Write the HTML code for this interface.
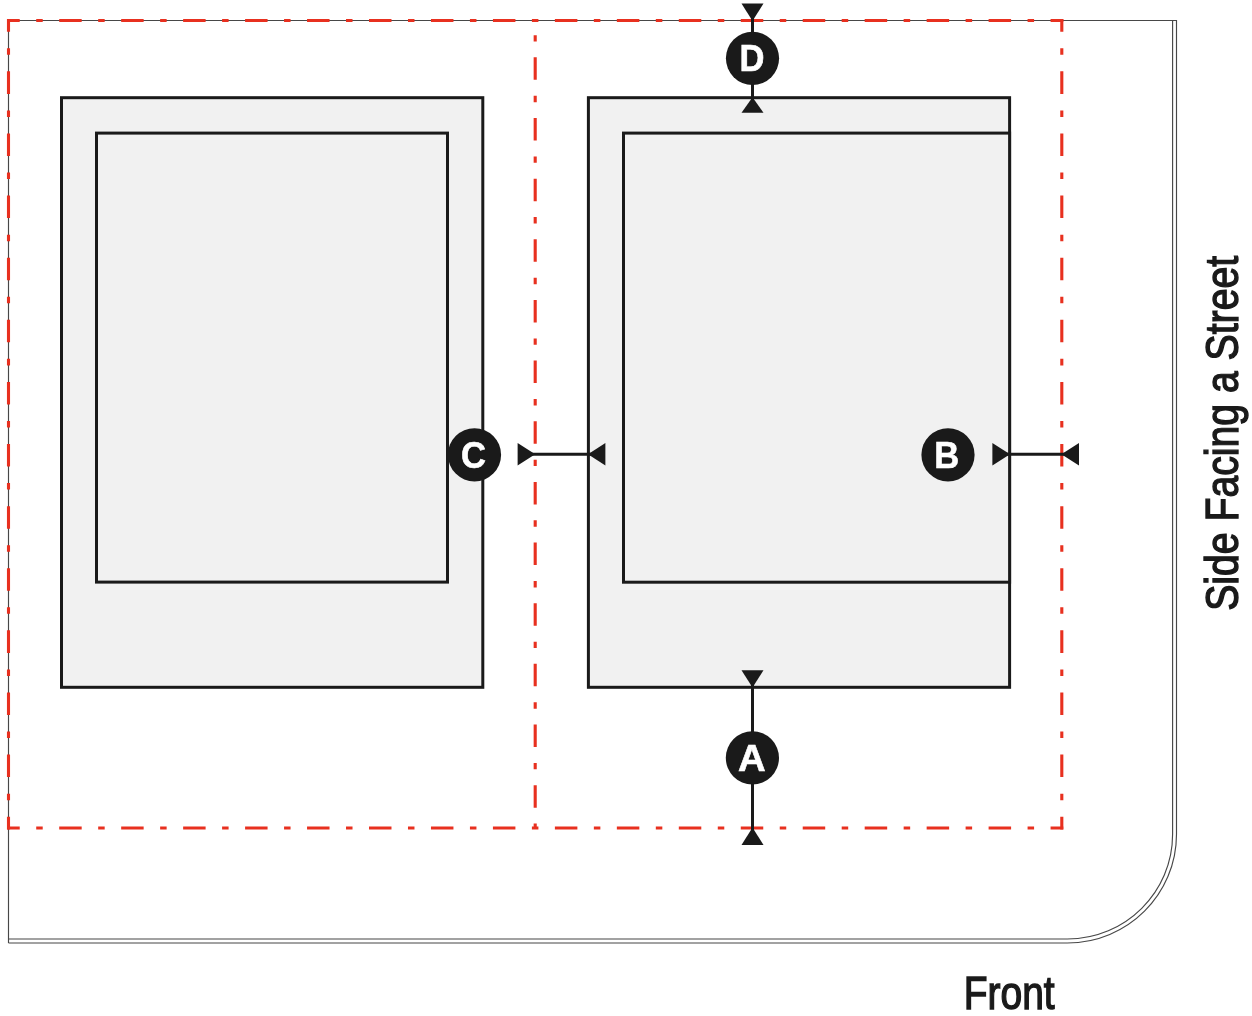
<!DOCTYPE html>
<html><head><meta charset="utf-8">
<style>
html,body{margin:0;padding:0;background:#fff;}
body{width:1252px;height:1016px;overflow:hidden;}
svg{display:block;will-change:transform;}
text{font-family:"Liberation Sans", sans-serif;}
</style></head>
<body>
<svg width="1252" height="1016" viewBox="0 0 1252 1016">
<rect width="1252" height="1016" fill="#fff"/>
<!-- lot lines -->
<g fill="none" stroke="#474747" stroke-width="1.15">
<path d="M8.5 943 V20.5 H1176.5 V834.2 C1176.5 894.26 1127.58 943 1067.3 943 H8.5"/>
<path d="M8.5 939 H1067.3 C1125.43 939 1172.6 892.05 1172.6 834.2 V20.5"/>
</g>
<!-- setback lines -->
<g fill="none" stroke="#e8301f" stroke-width="3.1">
<path d="M7 20.5 H1063.3" stroke-dasharray="22.48 16.49 6.5 16.49" stroke-dashoffset="9.75"/>
<path d="M7 828 H1063.3" stroke-dasharray="22.48 16.49 6.5 16.49" stroke-dashoffset="9.75"/>
<path d="M8.5 19 V829.5" stroke-dasharray="22.54 16.53 6.51 16.53" stroke-dashoffset="9.75"/>
<path d="M1061.8 19 V829.5" stroke-dasharray="22.54 16.53 6.51 16.53" stroke-dashoffset="9.75"/>
<path d="M535.2 20.5 V829" stroke-dasharray="22.52 15.92 6.4 15.81" stroke-dashoffset="23.8"/>
</g>
<!-- buildings -->
<g fill="#f1f1f1" stroke="#1a1a1a" stroke-width="3">
<rect x="61.5" y="97.7" width="421.3" height="589.6"/>
<rect x="96.5" y="133.1" width="351" height="449"/>
<rect x="588.4" y="97.7" width="421.2" height="589.6"/>
<rect x="623.5" y="133.1" width="386.1" height="449.1"/>
</g>
<!-- dimension lines -->
<g stroke="#1a1a1a" stroke-width="3" fill="none">
<path d="M528 454.2 H595"/>
<path d="M1003 454.2 H1068"/>
<path d="M752.5 14 V104"/>
<path d="M752.5 681 V834"/>
</g>
<g fill="#1a1a1a">
<path d="M517.6 443 L535.2 454.2 L517.6 465.4 Z"/>
<path d="M605.4 443 L588 454.2 L605.4 465.4 Z"/>
<path d="M992.4 443 L1010 454.2 L992.4 465.4 Z"/>
<path d="M1079 443 L1061.4 454.2 L1079 465.4 Z"/>
<path d="M741.5 3.4 L752.5 21 L763.5 3.4 Z"/>
<path d="M741.5 112.8 L752.5 97.2 L763.5 112.8 Z"/>
<path d="M741.5 670.2 L752.5 687.6 L763.5 670.2 Z"/>
<path d="M741.5 845 L752.5 827.5 L763.5 845 Z"/>
<circle cx="474.5" cy="454.8" r="26.6"/>
<circle cx="948" cy="454.8" r="26.6"/>
<circle cx="752.5" cy="58.35" r="26.6"/>
<circle cx="752.4" cy="757.85" r="26.6"/>
</g>
<g fill="#fff" stroke="#fff" stroke-width="0.6" font-weight="bold" font-size="37.2" text-anchor="middle">
<text transform="translate(473.6 468.3) scale(0.93 1)">C</text>
<text transform="translate(946.8 468.1) scale(0.93 1)">B</text>
<text transform="translate(752.0 71.1) scale(0.93 1)">D</text>
<text transform="translate(751.9 770.9) scale(1.03 1)">A</text>
</g>
<g fill="#1a1a1a" stroke="#1a1a1a" stroke-width="1.4" font-size="46.7">
<text transform="translate(963.7 1009.0) scale(0.835 1)">Front</text>
<text transform="translate(1237.7 610.8) rotate(-90) scale(0.839 1)">Side Facing a Street</text>
</g>
</svg>
</body></html>
